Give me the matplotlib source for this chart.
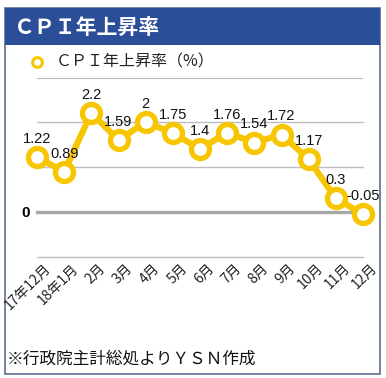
import matplotlib.pyplot as plt
from matplotlib.patches import Rectangle
import matplotlib.transforms as mtransforms

plt.rcParams['font.family'] = ['Noto Sans CJK JP', 'DejaVu Sans']

months = ['17年12月', '18年1月', '2月', '3月', '4月', '5月', '6月',
          '7月', '8月', '9月', '10月', '11月', '12月']
cpi = [1.22, 0.89, 2.2, 1.59, 2, 1.75, 1.4, 1.76, 1.54, 1.72, 1.17, 0.3, -0.05]
cpi_labels = ['1.22', '0.89', '2.2', '1.59', '2', '1.75', '1.4', '1.76', '1.54',
              '1.72', '1.17', '0.3', '-0.05']
grid_values = [2, 1, -1]

yellow = '#F7C600'
blue = '#2B4E98'
W, H = 386, 378

fig = plt.figure(figsize=(W / 100, H / 100), dpi=100)

# card frame and header
fig.patches.append(Rectangle((5 / W, 1 - 374 / H), 375 / W, 366 / H,
                             transform=fig.transFigure, facecolor='white',
                             edgecolor='#5C708F', linewidth=1.2, zorder=-2))
fig.patches.append(Rectangle((5 / W, 1 - 45 / H), 375 / W, 37 / H,
                             transform=fig.transFigure, facecolor=blue,
                             edgecolor='none', zorder=-1))
fig.text(14 / W, 1 - 27 / H, 'ＣＰＩ年上昇率', color='white', fontsize=15,
         fontweight='bold', va='center', ha='left')

# legend
fig.lines.append(plt.Line2D([37 / W], [1 - 62 / H], transform=fig.transFigure,
                            marker='o', markersize=7, markerfacecolor='white',
                            markeredgecolor=yellow, markeredgewidth=2.2))
fig.text(56 / W, 1 - 62 / H, 'ＣＰＩ年上昇率（%）', fontsize=11.5,
         va='center', ha='left', color='#222222')
fig.lines.append(plt.Line2D([37 / W, 362 / W], [1 - 78 / H, 1 - 78 / H],
                            transform=fig.transFigure, color='#BBBBBB', lw=0.8))

# plot area
ax = fig.add_axes([37 / W, 1 - 259 / H, 326 / W, 179 / H], zorder=2)
ax.set_xlim(0, len(months) - 1)
ax.set_ylim(-1.044, 2.93)
for v in grid_values:
    ax.plot([0, len(months) - 1], [v, v], color='#BDBDBD', lw=1.0,
            clip_on=False, zorder=2)
ax.plot([0, len(months) - 1], [0, 0], color='#A8A8A8', lw=2.4,
        clip_on=False, zorder=2)

x = list(range(len(months)))
ax.plot(x, cpi, color=yellow, lw=4.5, marker='o', markersize=13,
        markerfacecolor='white', markeredgecolor=yellow, markeredgewidth=3.8,
        clip_on=False, zorder=3)
for xi, yi, lab in zip(x, cpi, cpi_labels):
    ax.annotate(lab, (xi, yi), xytext=(0, 8), textcoords='offset points',
                ha='center', va='bottom', fontsize=10.5, color='#111111',
                family=['Liberation Sans', 'DejaVu Sans'], zorder=4)

for s in ax.spines.values():
    s.set_visible(False)
ax.set_yticks([0])
ax.set_yticklabels(['0'], fontsize=11, fontweight='bold',
                   family=['Liberation Sans', 'DejaVu Sans'])
ax.tick_params(axis='y', length=0, pad=5)
ax.set_xticks(x)
ax.set_xticklabels(months, rotation=45, rotation_mode='anchor',
                   ha='right', va='center', fontsize=10, color='#222222')
ax.tick_params(axis='x', length=0, pad=0)
offset = mtransforms.ScaledTranslation(12 / 100, -7 / 100, fig.dpi_scale_trans)
for lbl in ax.get_xticklabels():
    lbl.set_transform(lbl.get_transform() + offset)
ax.patch.set_visible(False)

fig.text(7 / W, 1 - 359 / H, '※行政院主計総処よりＹＳＮ作成', fontsize=12,
         va='center', ha='left', color='#111111')

fig.savefig('out.png', dpi=100)
